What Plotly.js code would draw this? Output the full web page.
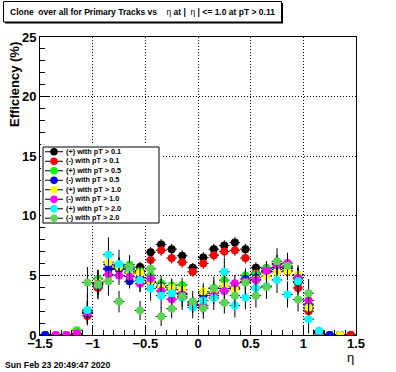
<!DOCTYPE html>
<html>
<head>
<meta charset="utf-8">
<script src="https://cdn.plot.ly/plotly-3.0.1.min.js"></script>
<style>html,body{margin:0;padding:0;background:#fff;}#chart{width:396px;height:372px;}</style>
</head>
<body>
<div id="chart"></div>
<script>
// eta bin centres
const etaBins = [-1.45,-1.35,-1.25,-1.15,-1.05,-0.95,-0.85,-0.75,-0.65,-0.55,-0.45,-0.35,-0.25,-0.15,-0.05,
                 0.05,0.15,0.25,0.35,0.45,0.55,0.65,0.75,0.85,0.95,1.05,1.15,1.25,1.35,1.45];
const binHalfWidth = 0.05;

const seriesNames = ['(+) with pT > 0.1','(-) with pT > 0.1','(+) with pT > 0.5','(-) with pT > 0.5',
                     '(+) with pT > 1.0','(-) with pT > 1.0','(+) with pT > 2.0','(-) with pT > 2.0'];

const effPos01 = [0,0,0,0.1, 2.0,4.1,5.9,5.8,5.5,5.7,6.95,7.6,7.2,6.65,5.65,6.5,7.2,7.5,7.75,7.2,5.65,5.6,5.7,5.6,4.4,2.2,0.1,0,0,0];
const effNeg01 = [0,0,0,0.1, 1.6,3.95,5.5,5.6,5.3,5.4,6.3,7.1,6.45,6.1,5.3,6.0,6.7,7.0,7.1,6.45,5.2,5.3,5.5,5.35,3.95,2.0,0.15,0,0,0];
const effPos05 = [0,0,0,0.4, 1.9,4.7,5.6,5.8,5.9,5.35,5.0,4.35,4.15,4.2,2.7,3.5,3.95,4.6,4.0,5.0,5.1,5.6,6.0,5.7,5.0,2.6,0.2,0,0,null];
const effNeg05 = [0,0,0,0.1, 1.8,4.3,5.55,5.5,4.5,4.8,4.4,4.1,3.8,3.5,2.5,3.3,3.5,3.9,3.9,4.7,4.8,5.3,5.65,5.6,4.7,2.5,0.2,0,0,null];
const effPos10 = [null,0,0,0.1, 1.9,4.4,6.1,5.7,5.2,5.2,4.5,4.0,3.95,3.8,2.6,3.65,3.6,4.1,3.85,4.4,4.65,4.93,5.3,5.4,5.07,2.3,0.25,null,0,null];
const effNeg10 = [null,0,0,0.15, 1.9,4.3,5.07,5.0,4.9,4.3,4.75,3.7,3.0,3.4,2.5,2.45,3.3,3.7,4.35,4.5,4.6,5.4,5.9,6.04,4.8,2.9,0.3,null,null,null];
const effPos20 = [null,null,null,null, 2.1,4.2,6.74,5.95,5.55,4.6,3.9,3.3,3.5,3.1,2.3,2.9,3.1,5.3,2.47,3.15,3.95,4.1,4.62,3.4,4.5,1.33,0.35,null,null,null];
const effNeg20 = [null,null,null,null, 4.4,4.25,4.5,2.8,5.7,2.05,5.55,1.55,2.2,3.25,2.8,2.25,3.9,2.7,3.3,4.4,3.3,4.03,6.18,5.8,2.97,3.5,null,null,null,null];

const errPos01 = [0,0,0,0.1, 0.7,0.6,0.5,0.5,0.45,0.45,0.45,0.45,0.45,0.45,0.4,0.45,0.45,0.45,0.45,0.45,0.45,0.45,0.5,0.5,0.5,0.6,0.1,0,0,0];
const errNeg01 = [0,0,0,0.1, 0.6,0.6,0.5,0.5,0.45,0.45,0.45,0.45,0.45,0.45,0.4,0.45,0.45,0.45,0.45,0.45,0.45,0.45,0.5,0.5,0.5,0.6,0.1,0,0,0];
const errPos05 = [0,0,0,0.3, 0.9,0.8,0.7,0.7,0.6,0.6,0.6,0.6,0.6,0.6,0.5,0.6,0.6,0.6,0.6,0.6,0.6,0.6,0.7,0.7,0.7,0.8,0.2,0,0,null];
const errNeg05 = [0,0,0,0.1, 0.9,0.8,0.7,0.7,0.6,0.6,0.6,0.6,0.6,0.6,0.5,0.6,0.6,0.6,0.6,0.6,0.6,0.6,0.7,0.7,0.7,0.8,0.2,0,0,null];
const errPos10 = [null,0,0,0.1, 1.0,0.9,0.8,0.8,0.7,0.7,0.7,0.7,0.7,0.7,0.6,0.7,0.7,0.7,0.7,0.7,0.7,0.7,0.8,0.8,0.8,0.9,0.25,null,0,null];
const errNeg10 = [null,0,0,0.15, 1.0,0.9,0.8,0.8,0.7,0.7,0.7,0.7,0.7,0.7,0.6,0.7,0.7,0.7,0.7,0.7,0.7,0.7,0.8,0.8,0.8,0.9,0.3,null,null,null];
const errPos20 = [null,null,null,null, 1.3,1.2,1.45,1.2,1.0,1.0,1.0,1.0,1.0,1.0,0.9,1.0,1.0,1.2,1.0,1.0,1.0,1.0,1.1,1.1,1.1,1.2,0.35,null,null,null];
const errNeg20 = [null,null,null,null, 1.3,1.2,1.2,0.9,1.0,0.8,1.0,0.8,0.8,0.9,0.9,0.9,1.0,0.9,1.0,1.0,1.0,1.0,1.1,1.1,1.0,1.2,null,null,null,null];

const seriesValues = [effPos01,effNeg01,effPos05,effNeg05,effPos10,effNeg10,effPos20,effNeg20];
const seriesErrors = [errPos01,errNeg01,errPos05,errNeg05,errPos10,errNeg10,errPos20,errNeg20];
const seriesColors = ['#000000','#ff0000','#00ff00','#0000ff','#ffff00','#ff00ff','#00ffff','#59d454'];

const FONT = 'Liberation Sans, Arial, Helvetica, sans-serif';
const traces = [];
seriesValues.forEach((vals, i) => {
  traces.push({
    type: 'scatter', mode: 'markers', x: etaBins, y: vals, showlegend: false,
    marker: {symbol: 'circle', size: 8, color: seriesColors[i], line: {width: 0}},
    error_y: {type: 'data', array: seriesErrors[i], visible: true, color: '#000', thickness: 1, width: 0},
    error_x: {type: 'constant', value: binHalfWidth, visible: true, color: '#000', thickness: 1, width: 0},
    cliponaxis: true, hoverinfo: 'skip'
  });
});

// legend drawn on a hidden overlay axis (units: pixels across, entries down)
const legRows = seriesNames.map((_, i) => i + 0.5);
traces.push({
  type: 'scatter', mode: 'lines', xaxis: 'x2', yaxis: 'y2', showlegend: false, hoverinfo: 'skip',
  x: [0,116,116,0,0], y: [0,0,8,8,0], fill: 'toself', fillcolor: '#ffffff',
  line: {color: '#000', width: 1}
});
const lx = [], ly = [];
legRows.forEach(r => { lx.push(2, 20, null); ly.push(r, r, null); });
traces.push({type: 'scatter', mode: 'lines', xaxis: 'x2', yaxis: 'y2', showlegend: false, hoverinfo: 'skip',
  x: lx, y: ly, line: {color: '#000', width: 1}});
traces.push({type: 'scatter', mode: 'markers', xaxis: 'x2', yaxis: 'y2', showlegend: false, hoverinfo: 'skip',
  x: legRows.map(() => 11), y: legRows,
  marker: {size: 7.5, color: seriesColors, line: {width: 0}}});
traces.push({type: 'scatter', mode: 'text', xaxis: 'x2', yaxis: 'y2', showlegend: false, hoverinfo: 'skip',
  x: legRows.map(() => 23), y: legRows, text: seriesNames, textposition: 'middle right',
  textfont: {family: FONT, size: 7.3, weight: 'bold', color: '#000'}});

const W = 396, H = 372, L = 40, R = 40, T = 37, B = 37;
const pw = W - L - R, ph = H - T - B;
const px = v => (v - L) / pw;
const py = v => (H - B - v) / ph;

const nb = '\u00a0';
const layout = {
  width: W, height: H,
  margin: {l: L, r: R, t: T, b: B, pad: 0},
  paper_bgcolor: '#fff', plot_bgcolor: '#fff',
  showlegend: false,
  font: {family: FONT, color: '#000'},
  xaxis: {
    range: [-1.5, 1.5], tick0: -1.5, dtick: 0.5, ticks: 'inside', ticklen: 9, tickwidth: 1, tickcolor: '#000',
    showline: true, linecolor: '#000', linewidth: 1, mirror: true, ticklabelstandoff: -4,
    showgrid: true, gridcolor: '#000', gridwidth: 1, griddash: '1px,2px', zeroline: false,
    tickfont: {family: FONT, size: 13, weight: 'bold', color: '#000'},
    minor: {ticks: 'inside', ticklen: 5, tick0: -1.5, dtick: 0.1, tickcolor: '#000', showgrid: false}
  },
  yaxis: {
    range: [0, 25], tick0: 0, dtick: 5, ticks: 'inside', ticklen: 9, tickwidth: 1, tickcolor: '#000',
    showline: true, linecolor: '#000', linewidth: 1, mirror: true,
    showgrid: true, gridcolor: '#000', gridwidth: 1, griddash: '1px,2px', zeroline: false,
    tickfont: {family: FONT, size: 13, weight: 'bold', color: '#000'},
    minor: {ticks: 'inside', ticklen: 5, tick0: 0, dtick: 1, tickcolor: '#000', showgrid: false}
  },
  xaxis2: {domain: [px(41), px(161)], range: [-2, 118], anchor: 'y2', visible: false, showgrid: false, zeroline: false, fixedrange: true},
  yaxis2: {domain: [py(225.85), py(144.15)], range: [8.3, -0.3], anchor: 'x2', visible: false, showgrid: false, zeroline: false, fixedrange: true},
  shapes: [
    {type: 'rect', xref: 'paper', yref: 'paper', x0: px(5), x1: px(283), y0: py(23.5), y1: py(3), fillcolor: '#000', line: {width: 0}, layer: 'above'},
    {type: 'rect', xref: 'paper', yref: 'paper', x0: px(3.5), x1: px(281.5), y0: py(22), y1: py(1.5), fillcolor: '#fff', line: {color: '#000', width: 1}, layer: 'above'}
  ],
  annotations: [
    {xref: 'paper', yref: 'paper', x: px(142.5), y: py(12), xanchor: 'center', yanchor: 'middle', showarrow: false,
     text: '<b>Clone' + nb + ' over all for Primary Tracks vs</b>' + nb + nb + nb + ' η <b>at |</b>' + nb + ' η <b>| &lt;= 1.0 at pT &gt; 0.11</b>',
     font: {family: FONT, size: 8.5, color: '#000'}},
    {xref: 'paper', yref: 'paper', x: px(14), y: py(85), xanchor: 'center', yanchor: 'middle', showarrow: false,
     textangle: -90, text: 'Efficiency (%)', font: {family: FONT, size: 13, weight: 'bold', color: '#000'}},
    {xref: 'paper', yref: 'paper', x: px(350), y: py(357), xanchor: 'center', yanchor: 'middle', showarrow: false,
     text: 'η', font: {family: FONT, size: 13, color: '#000'}},
    {xref: 'paper', yref: 'paper', x: px(3), y: py(365), xanchor: 'left', yanchor: 'middle', showarrow: false,
     text: 'Sun Feb 23 20:49:47 2020', font: {family: FONT, size: 8.7, weight: 'bold', color: '#000'}}
  ]
};

Plotly.newPlot('chart', traces, layout, {staticPlot: true, displayModeBar: false});
</script>
</body>
</html>
